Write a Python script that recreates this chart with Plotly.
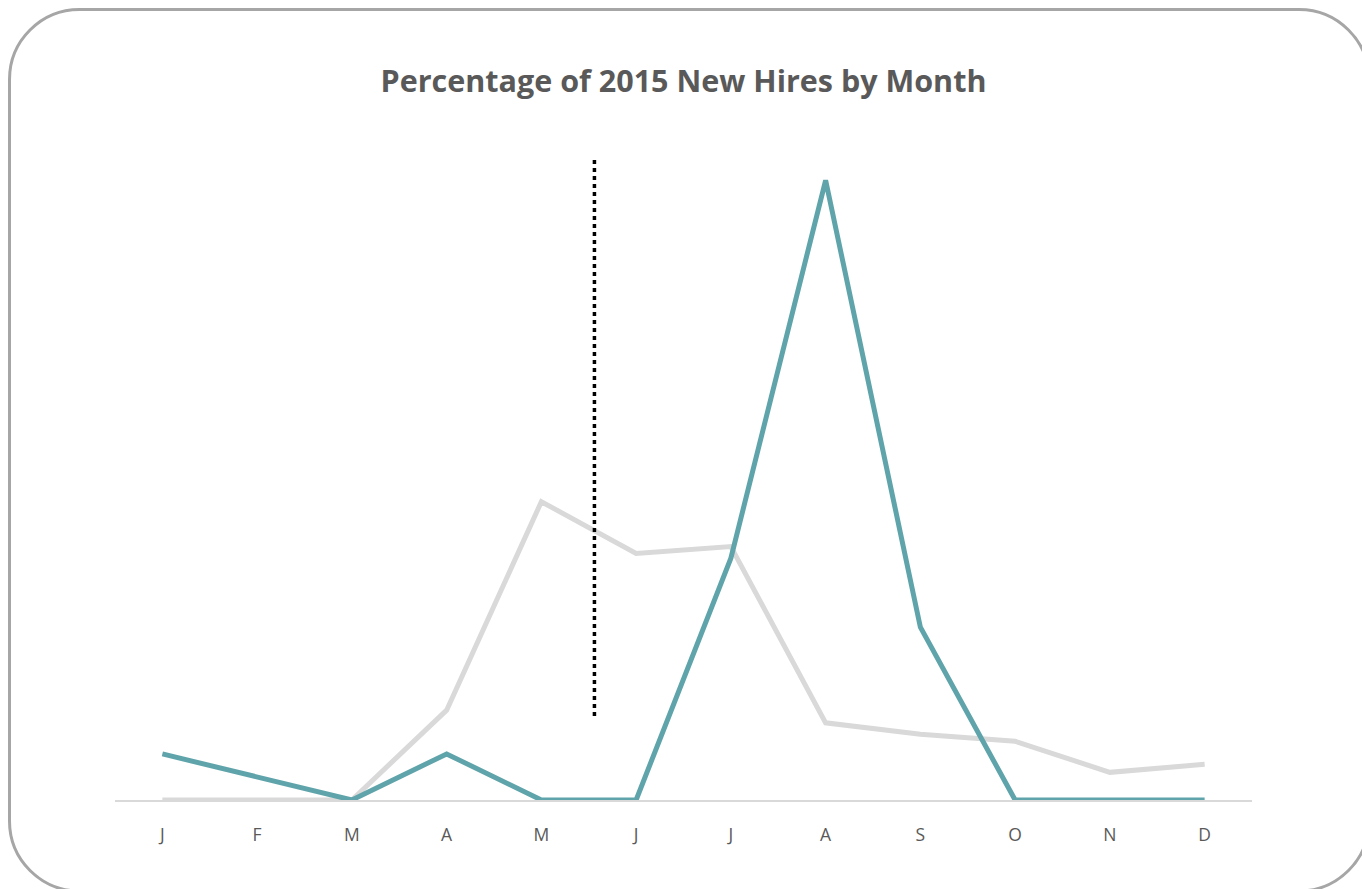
import plotly.graph_objects as go

months = ["J", "F", "M", "A", "M", "J", "J", "A", "S", "O", "N", "D"]
x_idx = list(range(len(months)))
teal_vals = [4, 2, 0, 4, 0, 0, 21, 53.8, 15, 0, 0, 0]
gray_vals = [0, 0, 0, 7.8, 25.9, 21.4, 22, 6.7, 5.7, 5.1, 2.4, 3.1]

W, H = 1362, 889
L, R, T, B = 115, 110, 155, 89
PW, PH = W - L - R, H - T - B


def px(x, y):
    return (x - L) / PW, (H - B - y) / PH


fig = go.Figure()
fig.add_trace(go.Scatter(x=x_idx, y=gray_vals, mode="lines",
                         line=dict(color="#d9d9d9", width=5), hoverinfo="skip"))
fig.add_trace(go.Scatter(x=x_idx, y=teal_vals, mode="lines",
                         line=dict(color="#5fa4aa", width=5), hoverinfo="skip"))

# rounded border
x0, y0, x1, y1, r = 9.5, 9.5, 1369, 891, 70
k = 0.5523 * r


def P(x, y):
    a, b = px(x, y)
    return f"{a:.5f},{b:.5f}"


path = (f"M {P(x0 + r, y0)} L {P(x1 - r, y0)} "
        f"C {P(x1 - r + k, y0)} {P(x1, y0 + r - k)} {P(x1, y0 + r)} "
        f"L {P(x1, y1 - r)} "
        f"C {P(x1, y1 - r + k)} {P(x1 - r + k, y1)} {P(x1 - r, y1)} "
        f"L {P(x0 + r, y1)} "
        f"C {P(x0 + r - k, y1)} {P(x0, y1 - r + k)} {P(x0, y1 - r)} "
        f"L {P(x0, y0 + r)} "
        f"C {P(x0, y0 + r - k)} {P(x0 + r - k, y0)} {P(x0 + r, y0)} Z")
fig.add_shape(type="path", path=path, xref="paper", yref="paper",
              line=dict(color="#a6a6a6", width=3), layer="above")

# dotted divider
fig.add_shape(type="line", xref="x", yref="y", x0=4.56, x1=4.56, y0=7.3, y1=55.8,
              line=dict(color="black", width=3.5, dash="4px,4px"))

fig.update_layout(
    width=W, height=H,
    margin=dict(l=L, r=R, t=T, b=B),
    paper_bgcolor="white", plot_bgcolor="white",
    showlegend=False,
    title=dict(text="<b>Percentage of 2015 New Hires by Month</b>",
               x=0.5, xanchor="center", xref="paper",
               y=1 - 81 / H, yanchor="middle", yref="container",
               font=dict(family="Open Sans", size=30.5, color="#595959")),
    xaxis=dict(range=[-0.5, 11.5], tickmode="array", tickvals=x_idx, ticktext=months,
               showgrid=False, zeroline=False, showline=True, linecolor="#d9d9d9",
               linewidth=1.5, ticks="", ticklabelstandoff=18,
               tickfont=dict(family="Open Sans", size=17.5, color="#595959")),
    yaxis=dict(range=[0, 56], visible=False, showgrid=False, zeroline=False),
)

fig.write_html("out.html")
